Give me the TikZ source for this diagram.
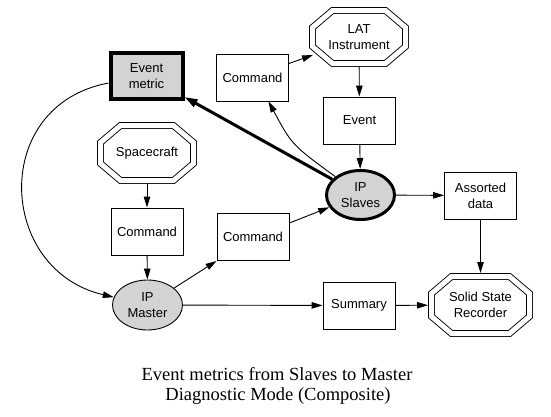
\documentclass[tikz,border=0pt]{standalone}
\usepackage{fontspec}
\setmainfont{Liberation Sans}
\newfontfamily\capfont{Liberation Serif}
\usetikzlibrary{arrows.meta,calc,shapes.geometric}
\definecolor{nodegray}{RGB}{211,211,211}
\tikzset{
  lbl/.style={font=\fontsize{13}{16}\selectfont, align=center},
  box/.style={lbl, draw, line width=0.9pt, minimum width=72pt, minimum height=47pt, inner sep=1pt},
  ell/.style={lbl, draw, ellipse, fill=nodegray, line width=0.9pt, minimum width=70pt, minimum height=50pt, inner sep=0pt},
  oct/.style={lbl, minimum width=100pt, minimum height=60pt, inner sep=0pt, outer sep=0pt},
  dbl/.style={draw, double, double distance=5pt, line width=0.9pt, line join=miter},
  arr/.style={-{Triangle[length=11pt,width=6.5pt]}, line width=0.9pt},
  thickarr/.style={-{Triangle[length=13pt,width=8pt]}, line width=3pt},
  captext/.style={font=\capfont\fontsize{18.5}{20}\selectfont, anchor=base, inner sep=0pt}
}
\newcommand\octpath[3]{%
  \draw[dbl] ($(#1.north west)+(3.5+#2,-3.5)$) -- ($(#1.north east)+(-3.5-#2,-3.5)$)
    -- ($(#1.north east)+(-3.5,-3.5-#3)$) -- ($(#1.south east)+(-3.5,3.5+#3)$)
    -- ($(#1.south east)+(-3.5-#2,3.5)$) -- ($(#1.south west)+(3.5+#2,3.5)$)
    -- ($(#1.south west)+(3.5,3.5+#3)$) -- ($(#1.north west)+(3.5,-3.5-#3)$) -- cycle;}
\begin{document}
\begin{tikzpicture}[x=1pt,y=1pt]
\fill[white] (0,0) rectangle (551,-416);
\useasboundingbox (0,0) rectangle (551,-416);
% nodes
\node[box, line width=4pt, fill=nodegray, minimum width=72pt, minimum height=46pt] (em) at (146.5,-76) {Event\\metric};
\node[box] (ctop) at (252.5,-77.5) {Command};
\node[oct] (lat) at (359,-37) {LAT\\Instrument};
\octpath{lat}{20}{17}
\node[box] (ev) at (359.5,-120.5) {Event};
\node[ell, line width=3pt, minimum width=68pt, minimum height=49pt] (sl) at (360.5,-195) {IP\\Slaves};
\node[box] (ad) at (480.5,-195.5) {Assorted\\data};
\node[oct, minimum width=105pt, minimum height=64pt] (ssr) at (480.5,-305) {Solid State\\Recorder};
\octpath{ssr}{20}{17}
\node[box] (sum) at (359,-305.5) {Summary};
\node[oct, minimum height=62pt] (sc) at (147,-153) {Spacecraft};
\octpath{sc}{20}{17}
\node[box] (cl) at (147,-231.5) {Command};
\node[box] (cm) at (253,-237) {Command};
\node[ell] (ma) at (147.5,-305) {IP\\Master};
% coordinates
\coordinate (latin) at ($(lat.south west)+(4,12)$);
\coordinate (ctopin) at ($(ctop.south)+(16,0)$);
\coordinate (emin) at ($(em.south east)+(0,4)$);
\coordinate (ctopout) at ($(ctop.east)+(0,14)$);
\coordinate (cmout) at ($(cm.east)+(0,14)$);
% connectors
\draw[arr] (sc) -- (cl);
\draw[arr] (cl) -- (ma);
\draw[arr] (ma) -- (cm.south west);
\draw[arr] (cmout) -- (sl);
\draw[arr] (ma) -- (sum);
\draw[arr] (sum) -- (ssr);
\draw[arr] (ad) -- (ssr);
\draw[arr] (sl) -- (ad);
\draw[arr] (ev) -- (sl);
\draw[arr] (lat) -- (ev);
\draw[arr] (ctopout) -- (latin);
\draw[arr] (sl) .. controls (292,-145) .. (ctopin);
\draw[thickarr] (sl) -- (emin);
\draw[arr] (em) .. controls (-10,-105) and (-3,-270) .. (ma);
% caption
\node[captext] (cap1) at (277,-380.7) {Event metrics from Slaves to Master};
\node[captext] (cap2) at (278,-400.3) {Diagnostic Mode (Composite)};
\end{tikzpicture}
\end{document}
